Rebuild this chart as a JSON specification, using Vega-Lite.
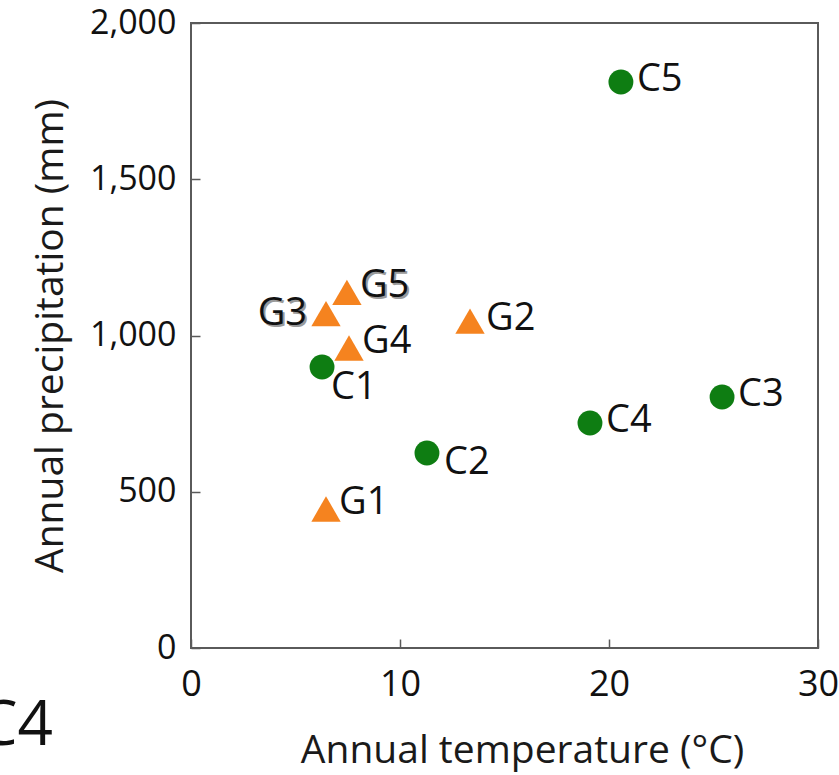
{
  "$schema": "https://vega.github.io/schema/vega-lite/v6.json",
  "autosize": "none",
  "width": 627,
  "height": 625,
  "padding": {"left": 191, "top": 23, "right": 21, "bottom": 127},
  "background": "white",
  "config": {
    "view": {"stroke": "#5a5a5a", "strokeWidth": 2},
    "font": "Open Sans"
  },
  "datasets": {
    "pts": [
      {"site": "C1", "type": "C", "temp": 6.27, "precip": 899, "pos": "below"},
      {"site": "C2", "type": "C", "temp": 11.29, "precip": 624, "pos": "rd"},
      {"site": "C3", "type": "C", "temp": 25.41, "precip": 803, "pos": "r"},
      {"site": "C4", "type": "C", "temp": 19.09, "precip": 720, "pos": "r"},
      {"site": "C5", "type": "C", "temp": 20.57, "precip": 1811, "pos": "r"},
      {"site": "G1", "type": "G", "temp": 6.46, "precip": 445, "pos": "ru"},
      {"site": "G2", "type": "G", "temp": 13.35, "precip": 1046, "pos": "r"},
      {"site": "G3", "type": "G", "temp": 6.46, "precip": 1070, "pos": "left"},
      {"site": "G4", "type": "G", "temp": 7.56, "precip": 960, "pos": "ru"},
      {"site": "G5", "type": "G", "temp": 7.46, "precip": 1138, "pos": "ru"}
    ],
    "frag": [{"label": "C4", "temp": -6.6, "precip": -310}]
  },
  "data": {"name": "pts"},
  "encoding": {
    "x": {
      "field": "temp", "type": "quantitative",
      "scale": {"domain": [0, 30], "nice": false, "zero": false},
      "axis": {
        "title": "Annual temperature (°C)", "values": [0, 10, 20, 30],
        "grid": false, "domain": false, "tickSize": -9, "tickColor": "#5a5a5a", "tickWidth": 1.5,
        "labelPadding": 28, "labelFontSize": 36, "labelColor": "#111111", "labelFlush": false,
        "titleFontSize": 39, "titleFontWeight": "normal", "titleColor": "#1a1a1a",
        "titleBaseline": "alphabetic", "titleY": 114, "titleX": 331
      }
    },
    "y": {
      "field": "precip", "type": "quantitative",
      "scale": {"domain": [0, 2000], "nice": false},
      "axis": {
        "title": "Annual precipitation (mm)", "values": [0, 500, 1000, 1500, 2000], "format": ",d",
        "grid": false, "domain": false, "tickSize": -9, "tickColor": "#5a5a5a", "tickWidth": 1.5,
        "labelPadding": 24, "labelFontSize": 34, "labelColor": "#111111", "labelFlush": false,
        "titleFontSize": 39, "titleFontWeight": "normal", "titleColor": "#1a1a1a",
        "titleBaseline": "middle", "titleX": -141
      }
    }
  },
  "layer": [
    {
      "mark": {"type": "point", "filled": true, "opacity": 1},
      "encoding": {
        "shape": {"field": "type", "type": "nominal", "scale": {"domain": ["C", "G"], "range": ["circle", "triangle-up"]}, "legend": null},
        "color": {"field": "type", "type": "nominal", "scale": {"domain": ["C", "G"], "range": ["#0e7d12", "#f5831f"]}, "legend": null},
        "size": {"field": "type", "type": "nominal", "scale": {"domain": ["C", "G"], "range": [620, 860]}, "legend": null}
      }
    },
    {
      "transform": [{"filter": "datum.site === 'G5'"}],
      "mark": {"type": "text", "align": "left", "baseline": "middle", "dx": 15, "dy": -4, "fontSize": 38, "font": "Open Sans", "color": "#9a9a9a"},
      "encoding": {"text": {"field": "site"}}
    },
    {
      "transform": [{"filter": "datum.site === 'G3'"}],
      "mark": {"type": "text", "align": "right", "baseline": "middle", "dx": -17, "dy": 2, "fontSize": 38, "font": "Open Sans", "color": "#9a9a9a"},
      "encoding": {"text": {"field": "site"}}
    },
    {
      "transform": [{"filter": "datum.pos === 'r'"}],
      "mark": {"type": "text", "align": "left", "baseline": "middle", "dx": 16, "dy": -2, "fontSize": 38, "font": "Open Sans", "color": "#111111"},
      "encoding": {"text": {"field": "site"}}
    },
    {
      "transform": [{"filter": "datum.pos === 'ru'"}],
      "mark": {"type": "text", "align": "left", "baseline": "middle", "dx": 13, "dy": -6, "fontSize": 38, "font": "Open Sans", "color": "#111111"},
      "encoding": {"text": {"field": "site"}}
    },
    {
      "transform": [{"filter": "datum.pos === 'rd'"}],
      "mark": {"type": "text", "align": "left", "baseline": "middle", "dx": 17, "dy": 10, "fontSize": 38, "font": "Open Sans", "color": "#111111"},
      "encoding": {"text": {"field": "site"}}
    },
    {
      "transform": [{"filter": "datum.pos === 'below'"}],
      "mark": {"type": "text", "align": "left", "baseline": "middle", "dx": 9, "dy": 21, "fontSize": 38, "font": "Open Sans", "color": "#111111"},
      "encoding": {"text": {"field": "site"}}
    },
    {
      "transform": [{"filter": "datum.pos === 'left'"}],
      "mark": {"type": "text", "align": "right", "baseline": "middle", "dx": -19, "dy": 0, "fontSize": 38, "font": "Open Sans", "color": "#111111"},
      "encoding": {"text": {"field": "site"}}
    },
    {
      "data": {"name": "frag"},
      "mark": {"type": "text", "align": "right", "baseline": "alphabetic", "fontSize": 62, "font": "Open Sans", "color": "#111111", "clip": false},
      "encoding": {"text": {"field": "label"}}
    }
  ]
}
